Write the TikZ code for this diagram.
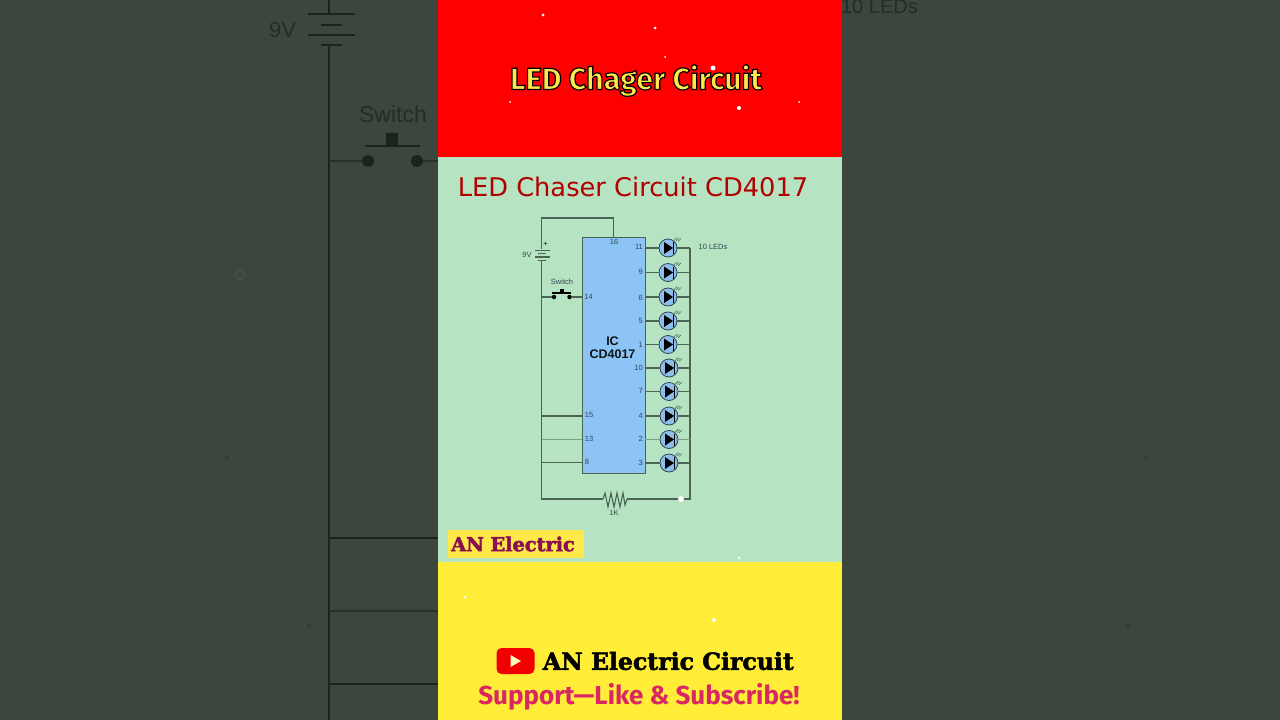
\documentclass[tikz,border=0pt]{standalone}
\usepackage{fontspec}
\setmainfont{Liberation Sans}
\newfontfamily\headfont{DejaVu Sans}
\newfontfamily\slabfont{DejaVu Serif}
\newfontfamily\roundfont{Fira Sans}
\usetikzlibrary{positioning}
\definecolor{darkbg}{HTML}{3B463D}
\definecolor{darkink}{HTML}{1B231D}
\definecolor{redband}{HTML}{FE0000}
\definecolor{greenband}{HTML}{B6E4C2}
\definecolor{yellowband}{HTML}{FFED38}
\definecolor{wirecol}{HTML}{4A6553}
\definecolor{icblue}{HTML}{8CC4F6}
\definecolor{ledblue}{HTML}{8EBFEC}
\definecolor{inkcol}{HTML}{33474F}
\definecolor{tagpurple}{HTML}{8A1050}
\definecolor{supportpink}{HTML}{DA2663}
\definecolor{titleyellow}{HTML}{FFE94A}
\tikzset{
  wire/.style={draw=wirecol, line width=1.1pt},
  thinwire/.style={draw=wirecol!55!greenband, line width=0.9pt},
  bgwire/.style={draw=darkink, line width=1.6pt},
  bgthin/.style={draw=darkink!60!darkbg, line width=1.2pt},
  bgtext/.style={text=darkink!75!darkbg, inner sep=0pt},
  pinlabel/.style={text=inkcol, font=\fontsize{7.5}{7.5}\selectfont, inner sep=0pt},
  ledbox/.style={circle, draw=inkcol, fill=ledblue, line width=0.8pt, minimum size=18pt, inner sep=0pt},
  pics/ledsym/.style={code={
      \fill[black] (-4,-6) -- (-4,6) -- (5,0) -- cycle;
      \draw[black, line width=1pt] (5,-6) -- (5,6);
      \draw[wirecol, line width=0.6pt] (6,-7.5) -- (9,-10.5) (8,-7) -- (11,-10) (10,-6.5) -- (13,-9.5);
    }},
  speck/.style={circle, fill=white, inner sep=0pt, minimum size=#1},
  darkspeck/.style={circle, fill=darkink!30!darkbg, inner sep=0pt, minimum size=#1},
}

\begin{document}
\begin{tikzpicture}[x=1pt, y=-1pt]

        \useasboundingbox (0,0) rectangle (1280,720);
        \fill[darkbg] (0,0) rectangle (1280,720);

        \coordinate (bgtop) at (329,0);
        \coordinate (bgbot) at (329,720);
        \draw[bgwire] (bgtop) -- (329,14);
        \draw[bgwire] (329,45) -- (bgbot);
        \draw[bgwire] (308,14) -- (355,14);
        \draw[bgwire] (321,25) -- (342,25);
        \draw[bgwire] (308,35) -- (355,35);
        \draw[bgwire] (321,45) -- (342,45);
        \node[bgtext, font=\fontsize{22}{22}\selectfont] (bgnine) at (282.5,30) {9V};
        \node[bgtext, font=\fontsize{23}{23}\selectfont] (bgswitch) at (393,114) {Switch};
        \node[bgtext, anchor=east, font=\fontsize{20}{20}\selectfont] (bgleds) at (918,6.5) {10 LEDs};
        \draw[bgthin] (329,161) -- (368,161);
        \draw[bgthin] (417,161) -- (438,161);
        \draw[bgwire] (365,146) -- (420,146);
        \fill[darkink] (386,133) rectangle (398,146);
        \node[circle, fill=darkink, minimum size=12pt, inner sep=0pt] (bgswa) at (368,161) {};
        \node[circle, fill=darkink, minimum size=12pt, inner sep=0pt] (bgswb) at (417,161) {};
        \draw[bgwire] (329,538) -- (438,538);
        \draw[bgthin] (329,611) -- (438,611);
        \draw[bgwire] (329,684) -- (438,684);
        \node[circle, draw=darkbg!85!white, inner sep=0pt, minimum size=9pt] (bgring) at (240,275) {};
        \node[darkspeck=4pt] (bga) at (309,625) {};
        \node[darkspeck=4pt] (bgb) at (227,457) {};
        \node[darkspeck=4pt] (bgc) at (1145,457) {};
        \node[darkspeck=4pt] (bgd) at (1128,625) {};

        \fill[redband] (438,0) rectangle (842,157);
        \fill[greenband] (438,157) rectangle (842,562);
        \fill[yellowband] (438,562) rectangle (842,720);

        \node[inner sep=0pt, text=titleyellow, font=\roundfont\bfseries\fontsize{30.5}{30.5}\selectfont] (maintitle) at (636,80.5)
             {\special{pdf:code q 2 Tr 1.2 w 0 0 0 RG}LED Chager Circuit\special{pdf:code Q}};
        \node[inner sep=0pt, text=red!70!black, font=\headfont\fontsize{25.7}{25.7}\selectfont] (subtitle) at (633,187) {LED Chaser Circuit CD4017};

        \node[draw=wirecol, line width=0.9pt, fill=icblue, minimum width=63pt, minimum height=236pt, inner sep=0pt] (ic) at (613.5,355) {};
        \node[align=center, inner sep=0pt, font=\bfseries\fontsize{12.5}{13}\selectfont, text=black!90!icblue] (iclabel) at (612.5,348) {IC\\CD4017};

        \coordinate (topleft) at (541.5,218);
        \coordinate (botleft) at (541.5,499);
        \coordinate (botright) at (690,499);
        \coordinate (busright) at (690,248);
        \coordinate (batone) at (541.5,249);
        \coordinate (battwo) at (541.5,261);
        \coordinate (pinvcc) at (613.5,218);
        \coordinate (resa) at (603,499);
        \coordinate (resb) at (627,499);
        \coordinate (wfifteen) at (541.5,416);
        \coordinate (wthirteen) at (541.5,439);
        \coordinate (weight) at (541.5,462.5);

        \draw[wire] (batone) -- (topleft) -- (pinvcc) -- (ic.north -| pinvcc);
        \draw[wire] (battwo) -- (botleft) -- (resa);
        \draw[wire] (resb) -- (botright) -- (busright);
        \draw[wire] (resa) -- (605,493) -- (608,507) -- (611,493) -- (614,507) -- (617,493) -- (620,507) -- (623,493) -- (625,505) -- (resb);
        \node[pinlabel] (reslabel) at (614,513) {1K};

        \draw[wire] (535,250.5) -- (550,250.5);
        \draw[wire] (538,253.5) -- (546,253.5);
        \draw[wire] (535,257) -- (550,257);
        \draw[wire] (538,260.5) -- (546,260.5);
        \node[pinlabel] (batlabel) at (527,255) {9V};
        \node[pinlabel, text=black] (batplus) at (545.5,244) {+};

        \node[pinlabel] (swlabel) at (562,282) {Switch};
        \node[circle, fill=black, minimum size=4.5pt, inner sep=0pt] (swa) at (554,297) {};
        \node[circle, fill=black, minimum size=4.5pt, inner sep=0pt] (swb) at (569.5,297) {};
        \draw[black, line width=1.2pt] (552,293) -- (571,293);
        \fill[black] (559.5,288.5) rectangle (564,293);
        \draw[wire] (swa -| topleft) -- (swa);
        \draw[wire] (swb) -- (ic.west |- swb);

        \node[pinlabel] (pinsixteen) at (614,242) {16};
        \node[pinlabel] (pinfourteen) at (588.5,297) {14};
        \node[pinlabel] (pinfifteen) at (589,415) {15};
        \node[pinlabel] (pinthirteen) at (589,438.5) {13};
        \node[pinlabel] (pineight) at (587,462) {8};
        \draw[wire] (wfifteen) -- (ic.west |- wfifteen);
        \draw[thinwire] (wthirteen) -- (ic.west |- wthirteen);
        \draw[wire] (weight) -- (ic.west |- weight);

        \node[pinlabel] (ledcount) at (713,247) {10 LEDs};

        \node[pinlabel, anchor=east] (pa) at (643,247) {11};
        \node[ledbox] (leda) at (668,248) {};
        \pic at (leda) {ledsym};
        \draw[wire] (ic.east |- leda) -- (leda.west);
        \draw[wire] (leda.east) -- (busright |- leda);

        \node[pinlabel, anchor=east] (pb) at (643,272) {9};
        \node[ledbox] (ledb) at (668,272.5) {};
        \pic at (ledb) {ledsym};
        \draw[wire] (ic.east |- ledb) -- (ledb.west);
        \draw[wire] (ledb.east) -- (busright |- ledb);

        \node[pinlabel, anchor=east] (pc) at (643,297.5) {6};
        \node[ledbox] (ledc) at (668,297) {};
        \pic at (ledc) {ledsym};
        \draw[wire] (ic.east |- ledc) -- (ledc.west);
        \draw[wire] (ledc.east) -- (busright |- ledc);

        \node[pinlabel, anchor=east] (pd) at (643,321) {5};
        \node[ledbox] (ledd) at (668,321) {};
        \pic at (ledd) {ledsym};
        \draw[wire] (ic.east |- ledd) -- (ledd.west);
        \draw[wire] (ledd.east) -- (busright |- ledd);

        \node[pinlabel, anchor=east] (pe) at (643,344.5) {1};
        \node[ledbox] (lede) at (668,344.5) {};
        \pic at (lede) {ledsym};
        \draw[wire] (ic.east |- lede) -- (lede.west);
        \draw[wire] (lede.east) -- (busright |- lede);

        \node[pinlabel, anchor=east] (pf) at (643,368) {10};
        \node[ledbox] (ledf) at (669,368) {};
        \pic at (ledf) {ledsym};
        \draw[wire] (ic.east |- ledf) -- (ledf.west);
        \draw[wire] (ledf.east) -- (busright |- ledf);

        \node[pinlabel, anchor=east] (pg) at (643,391) {7};
        \node[ledbox] (ledg) at (669,391.5) {};
        \pic at (ledg) {ledsym};
        \draw[wire] (ic.east |- ledg) -- (ledg.west);
        \draw[wire] (ledg.east) -- (busright |- ledg);

        \node[pinlabel, anchor=east] (ph) at (643,415.5) {4};
        \node[ledbox] (ledh) at (669,416) {};
        \pic at (ledh) {ledsym};
        \draw[wire] (ic.east |- ledh) -- (ledh.west);
        \draw[wire] (ledh.east) -- (busright |- ledh);

        \node[pinlabel, anchor=east] (pi) at (643,439) {2};
        \node[ledbox] (ledi) at (669,439.5) {};
        \pic at (ledi) {ledsym};
        \draw[thinwire] (ic.east |- ledi) -- (ledi.west);
        \draw[thinwire] (ledi.east) -- (busright |- ledi);

        \node[pinlabel, anchor=east] (pj) at (643,462.5) {3};
        \node[ledbox] (ledj) at (669,463) {};
        \pic at (ledj) {ledsym};
        \draw[wire] (ic.east |- ledj) -- (ledj.west);
        \draw[wire] (ledj.east) -- (busright |- ledj);

        \node[fill=titleyellow, minimum width=136pt, minimum height=28pt, inner sep=0pt] (tagbox) at (516,543.5) {};
        \node[inner sep=0pt, text=tagpurple, font=\slabfont\bfseries\fontsize{19.3}{19.3}\selectfont] (taglabel) at (513,544)
             {\special{pdf:code q 2 Tr 0.5 w 0.54 0.06 0.31 RG}AN Electric\special{pdf:code Q}};

        \node[fill=red!95!black, rounded corners=5pt, minimum width=38pt, minimum height=26pt, inner sep=0pt] (ytbox) at (515.5,661) {};
        \fill[yellow!25!white] (510.5,655) -- (510.5,667) -- (521,661) -- cycle;
        \node[inner sep=0pt, text=black, font=\slabfont\bfseries\fontsize{23.6}{23.6}\selectfont, right=8pt of ytbox] (ytlabel)
             {\special{pdf:code q 2 Tr 0.5 w 0 0 0 RG}AN Electric Circuit\special{pdf:code Q}};
        \node[inner sep=0pt, text=supportpink, font=\roundfont\bfseries\fontsize{26}{26}\selectfont] (support) at (639,697) {Support—Like \& Subscribe!};

        \node[speck=3pt] (sa) at (543,15) {};
        \node[speck=3pt] (sb) at (655,28) {};
        \node[speck=2pt] (sc) at (665,57) {};
        \node[speck=5pt] (sd) at (713,68) {};
        \node[speck=2pt] (se) at (510,102) {};
        \node[speck=2pt] (sf) at (799,102) {};
        \node[speck=4pt] (sg) at (739,108) {};
        \node[speck=6pt] (sh) at (681,499) {};
        \node[speck=3pt] (si) at (739,558) {};
        \node[speck=3pt] (sj) at (465,597) {};
        \node[speck=4pt] (sk) at (714,620) {};

\end{tikzpicture}
\end{document}
